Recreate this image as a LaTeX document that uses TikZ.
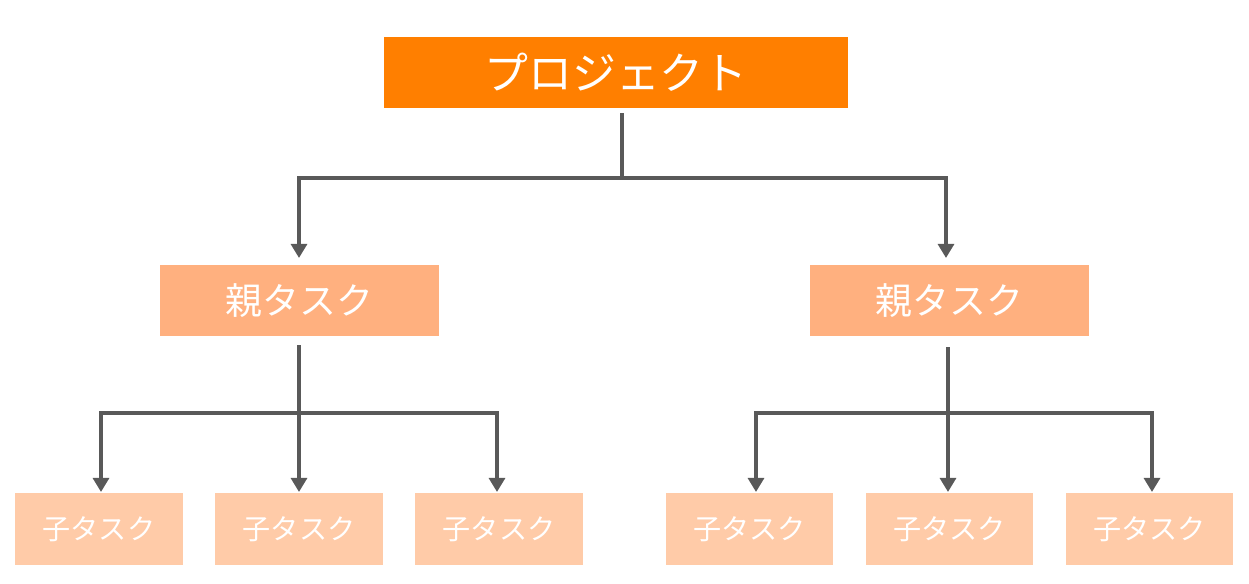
\documentclass[tikz,border=0pt]{standalone}
\usepackage{fontspec}
\setmainfont{Noto Sans CJK JP}
\usetikzlibrary{arrows.meta}
\definecolor{c1}{HTML}{FF7F00}
\definecolor{c2}{HTML}{FFB07F}
\definecolor{c3}{HTML}{FFCBA8}
\definecolor{ln}{HTML}{595959}
\begin{document}
\begin{tikzpicture}[x=0.02cm,y=-0.02cm,
 box/.style={draw=none,text=white,inner sep=0pt,anchor=center},
 top/.style={box,fill=c1,minimum width=9.28cm,minimum height=1.42cm,font=\fontsize{25}{25}\selectfont},
 par/.style={box,fill=c2,minimum width=5.58cm,minimum height=1.42cm,font=\fontsize{21}{21}\selectfont},
 chi/.style={box,fill=c3,minimum width=3.36cm,minimum height=1.44cm,font=\fontsize{16}{16}\selectfont},
 con/.style={ln,line width=2.4pt},
 arr/.style={con,-{Triangle[length=8pt,width=9pt]}}]
\useasboundingbox (0,0) rectangle (1249,583);
\node[top] (p) at (616,72.5) {プロジェクト};
\node[par] (a) at (299.5,300.5) {親タスク};
\node[par] (b) at (949.5,300.5) {親タスク};
\foreach \n/\x in {c1/99,c2/299,c3/499,c4/749.5,c5/949.5,c6/1149.5}
  \node[chi] (\n) at (\x,529) {子タスク};
\coordinate (pj) at (622,178);
\coordinate (aj) at (299,413);
\coordinate (bj) at (948,413);
\draw[con] (622,113) -- (pj);
\draw[arr] (pj) -| (299,258);
\draw[arr] (pj) -| (946,258);
\draw[con] (299,345) -- (aj);
\draw[arr] (aj) -| (101,492);
\draw[arr] (aj) -- (299,492);
\draw[arr] (aj) -| (497,492);
\draw[con] (948,347) -- (bj);
\draw[arr] (bj) -| (756,492);
\draw[arr] (bj) -- (948,492);
\draw[arr] (bj) -| (1152,492);
\end{tikzpicture}
\end{document}
